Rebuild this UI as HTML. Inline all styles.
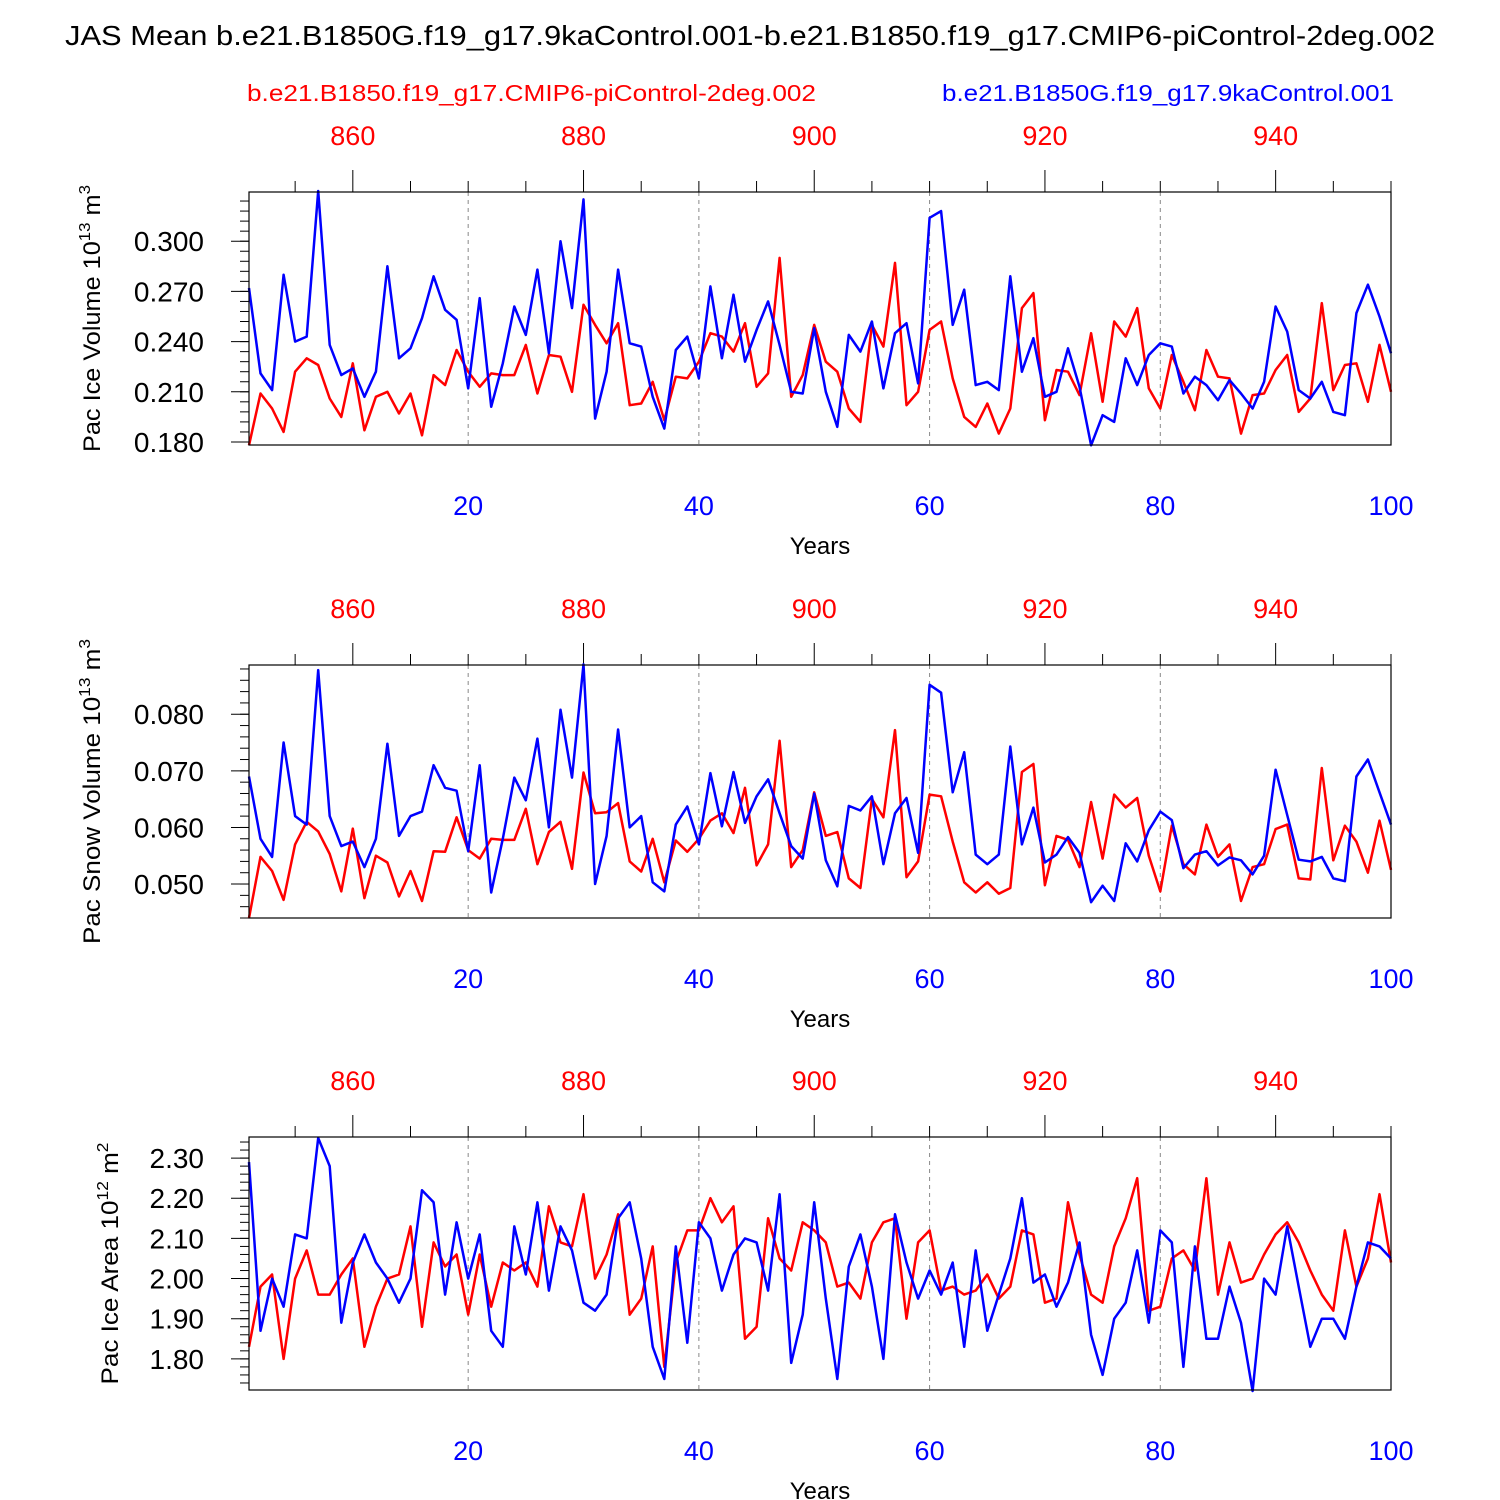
<!DOCTYPE html>
<html><head><meta charset="utf-8"><style>
html,body{margin:0;padding:0;background:#fff;}
svg{display:block;font-family:"Liberation Sans",sans-serif;}
</style></head><body>
<svg id="chart" width="1500" height="1500" xmlns="http://www.w3.org/2000/svg">
<text x="65" y="45" font-size="28" textLength="1370" lengthAdjust="spacingAndGlyphs">JAS Mean b.e21.B1850G.f19_g17.9kaControl.001-b.e21.B1850.f19_g17.CMIP6-piControl-2deg.002</text>
<text x="247" y="101" font-size="23" fill="#f00" textLength="569" lengthAdjust="spacingAndGlyphs">b.e21.B1850.f19_g17.CMIP6-piControl-2deg.002</text>
<text x="942" y="101" font-size="23" fill="#00f" textLength="452" lengthAdjust="spacingAndGlyphs">b.e21.B1850G.f19_g17.9kaControl.001</text>
</svg>
<script>
const years = Array.from({length:100},(_,i)=>i+1);
const iceVolBlue=[0.272,0.221,0.211,0.280,0.240,0.243,0.330,0.238,0.220,0.224,0.207,0.222,0.285,0.230,0.236,0.254,0.279,0.259,0.253,0.212,0.266,0.201,0.227,0.261,0.244,0.283,0.233,0.300,0.260,0.325,0.194,0.222,0.283,0.239,0.237,0.207,0.188,0.235,0.243,0.218,0.273,0.230,0.268,0.228,0.247,0.264,0.238,0.210,0.209,0.248,0.210,0.189,0.244,0.234,0.252,0.212,0.245,0.251,0.215,0.314,0.318,0.250,0.271,0.214,0.216,0.211,0.279,0.222,0.242,0.207,0.210,0.236,0.213,0.178,0.196,0.192,0.230,0.214,0.232,0.239,0.237,0.209,0.219,0.214,0.205,0.217,0.209,0.200,0.216,0.261,0.246,0.211,0.206,0.216,0.198,0.196,0.257,0.274,0.255,0.233];
const iceVolRed=[0.178,0.209,0.200,0.186,0.222,0.230,0.226,0.206,0.195,0.227,0.187,0.207,0.210,0.197,0.209,0.184,0.220,0.214,0.235,0.222,0.213,0.221,0.220,0.220,0.238,0.209,0.232,0.231,0.210,0.262,0.250,0.239,0.251,0.202,0.203,0.216,0.193,0.219,0.218,0.228,0.245,0.243,0.234,0.251,0.213,0.221,0.290,0.207,0.220,0.250,0.228,0.222,0.200,0.192,0.250,0.237,0.287,0.202,0.210,0.247,0.252,0.218,0.195,0.189,0.203,0.185,0.200,0.260,0.269,0.193,0.223,0.222,0.208,0.245,0.204,0.252,0.243,0.260,0.212,0.200,0.232,0.216,0.199,0.235,0.219,0.218,0.185,0.208,0.209,0.223,0.232,0.198,0.206,0.263,0.211,0.226,0.227,0.204,0.238,0.210];
const snowBlue=[0.069,0.058,0.0548,0.075,0.062,0.0605,0.0878,0.062,0.0567,0.0575,0.053,0.058,0.0748,0.0585,0.062,0.0628,0.071,0.067,0.0665,0.0558,0.071,0.0485,0.058,0.0688,0.0648,0.0757,0.06,0.0808,0.0688,0.0888,0.05,0.0585,0.0773,0.06,0.062,0.0503,0.0487,0.0605,0.0637,0.057,0.0696,0.0602,0.0698,0.0608,0.0655,0.0685,0.0625,0.0567,0.0545,0.066,0.0542,0.0496,0.0638,0.063,0.0655,0.0535,0.0625,0.0652,0.0555,0.0852,0.0838,0.0662,0.0733,0.0552,0.0535,0.0552,0.0743,0.057,0.0635,0.0538,0.0552,0.0583,0.0555,0.0468,0.0497,0.047,0.0572,0.054,0.0595,0.0628,0.0613,0.0528,0.0552,0.0558,0.0533,0.0547,0.0542,0.0517,0.055,0.0702,0.0622,0.0543,0.054,0.0548,0.051,0.0505,0.069,0.072,0.0662,0.0605];
const snowRed=[0.044,0.0548,0.0523,0.0472,0.057,0.061,0.0593,0.0553,0.0487,0.0598,0.0475,0.055,0.0538,0.0478,0.0523,0.047,0.0558,0.0557,0.0618,0.056,0.0545,0.058,0.0578,0.0578,0.0633,0.0535,0.0592,0.061,0.0527,0.0697,0.0625,0.0627,0.0643,0.054,0.0522,0.058,0.0503,0.0577,0.0557,0.058,0.0612,0.0625,0.059,0.067,0.0533,0.057,0.0753,0.053,0.056,0.0662,0.0585,0.0592,0.051,0.0493,0.065,0.0618,0.0772,0.0512,0.054,0.0658,0.0655,0.0575,0.0503,0.0485,0.0503,0.0483,0.0493,0.0698,0.0712,0.0498,0.0585,0.0578,0.053,0.0645,0.0545,0.0658,0.0635,0.0652,0.055,0.0487,0.0603,0.0535,0.0517,0.0605,0.0548,0.057,0.047,0.053,0.0535,0.0597,0.0605,0.051,0.0508,0.0705,0.0542,0.0603,0.0575,0.052,0.0612,0.0525];
const areaBlue=[2.29,1.87,2.00,1.93,2.11,2.10,2.35,2.28,1.89,2.04,2.11,2.04,2.00,1.94,2.00,2.22,2.19,1.96,2.14,2.00,2.11,1.87,1.83,2.13,2.01,2.19,1.97,2.13,2.07,1.94,1.92,1.96,2.15,2.19,2.05,1.83,1.75,2.08,1.84,2.14,2.10,1.97,2.06,2.10,2.09,1.97,2.21,1.79,1.91,2.19,1.95,1.75,2.03,2.11,1.98,1.80,2.16,2.04,1.95,2.02,1.96,2.04,1.83,2.07,1.87,1.96,2.05,2.20,1.99,2.01,1.93,1.99,2.09,1.86,1.76,1.90,1.94,2.07,1.89,2.12,2.09,1.78,2.08,1.85,1.85,1.98,1.89,1.72,2.00,1.96,2.13,1.98,1.83,1.90,1.90,1.85,1.98,2.09,2.08,2.05];
const areaRed=[1.83,1.98,2.01,1.80,2.00,2.07,1.96,1.96,2.01,2.05,1.83,1.93,2.00,2.01,2.13,1.88,2.09,2.03,2.06,1.91,2.06,1.93,2.04,2.02,2.04,1.98,2.18,2.09,2.08,2.21,2.00,2.06,2.16,1.91,1.95,2.08,1.78,2.04,2.12,2.12,2.20,2.14,2.18,1.85,1.88,2.15,2.05,2.02,2.14,2.12,2.09,1.98,1.99,1.95,2.09,2.14,2.15,1.90,2.09,2.12,1.97,1.98,1.96,1.97,2.01,1.95,1.98,2.12,2.11,1.94,1.95,2.19,2.06,1.96,1.94,2.08,2.15,2.25,1.92,1.93,2.05,2.07,2.02,2.25,1.96,2.09,1.99,2.00,2.06,2.11,2.14,2.09,2.02,1.96,1.92,2.12,1.98,2.05,2.21,2.04];
const bottomTicks=[20,40,60,80,100];
const topTicks=[860,880,900,920,940];
const YEAR_OFFSET=850;
const panels=[
 {name:'ice-volume',top:192,ymin:0.1782,ymax:0.3294,ticks:[0.18,0.21,0.24,0.27,0.30],dec:3,minor:0.006,title:'Pac Ice Volume 10',exp:'13',unit:' m',uexp:'3',blue:iceVolBlue,red:iceVolRed,tx:100,tl:267},
 {name:'snow-volume',top:665,ymin:0.044,ymax:0.0887,ticks:[0.05,0.06,0.07,0.08],dec:3,minor:0.002,title:'Pac Snow Volume 10',exp:'13',unit:' m',uexp:'3',blue:snowBlue,red:snowRed,tx:100,tl:305},
 {name:'ice-area',top:1137,ymin:1.7225,ymax:2.3525,ticks:[1.8,1.9,2.0,2.1,2.2,2.3],dec:2,minor:0.02,title:'Pac Ice Area 10',exp:'12',unit:' m',uexp:'2',blue:areaBlue,red:areaRed,tx:118,tl:242}
];
const NS='http://www.w3.org/2000/svg';
const svg=document.getElementById('chart');
const X0=249,X1=1391,H=253;
const xs=v=>X0+(v-1)/99*(X1-X0);
function mk(tag,attrs,parent){const e=document.createElementNS(NS,tag);for(const k in attrs)e.setAttribute(k,attrs[k]);(parent||svg).appendChild(e);return e;}
panels.forEach(p=>{
 const g=mk('g',{});
 
 
 const ys=v=>p.top+H-(v-p.ymin)/(p.ymax-p.ymin)*H;
 bottomTicks.slice(0,4).forEach(t=>{const l=mk('line',{x1:xs(t),x2:xs(t),y1:p.top,y2:p.top+H,stroke:'#888','stroke-width':1,'stroke-dasharray':'4,4'},g);
  
  });
 for(let yr=5;yr<=100;yr+=5){const major=((yr+YEAR_OFFSET)%20===0);mk('line',{x1:xs(yr),x2:xs(yr),y1:p.top,y2:p.top-(major?22:11),stroke:'#000','stroke-width':1},g);}
 topTicks.forEach(t=>{const tx=mk('text',{x:xs(t-YEAR_OFFSET),y:p.top-47,'font-size':27,fill:'#f00','text-anchor':'middle'},g);tx.textContent=t;
  
  });
 bottomTicks.forEach(t=>{const tx=mk('text',{x:xs(t),y:p.top+H+70,'font-size':27,fill:'#00f','text-anchor':'middle'},g);tx.textContent=t;
  
  });
 const xt=mk('text',{x:820,y:p.top+H+109,'font-size':24,'text-anchor':'middle'},g);xt.textContent='Years';
 
 
 const start=Math.ceil(p.ymin/p.minor);
 for(let k=start;k*p.minor<=p.ymax;k++){const v=k*p.minor;mk('line',{x1:X0,x2:X0-9,y1:ys(v),y2:ys(v),stroke:'#000','stroke-width':1},g);}
 p.ticks.forEach(t=>{mk('line',{x1:X0,x2:X0-18,y1:ys(t),y2:ys(t),stroke:'#000','stroke-width':1},g);
  const tx=mk('text',{x:204,y:ys(t)+10,'font-size':28,'text-anchor':'end'},g);tx.textContent=t.toFixed(p.dec);
  
  });
 const yt=mk('text',{transform:`translate(${p.tx},${p.top+H/2}) rotate(-90)`,'font-size':24,'text-anchor':'middle',textLength:p.tl,lengthAdjust:'spacingAndGlyphs'},g);
 
 
 yt.innerHTML=`${p.title}<tspan dy="-10" font-size="16">${p.exp}</tspan><tspan dy="10">${p.unit}</tspan><tspan dy="-10" font-size="16">${p.uexp}</tspan>`;
 [['red',p.red,'#f00'],['blue',p.blue,'#00f']].forEach(([n,arr,c])=>{
  const d=arr.map((v,i)=>(i?'L':'M')+xs(years[i]).toFixed(1)+','+ys(v).toFixed(1)).join('');
  const path=mk('path',{d:d,fill:'none',stroke:c,'stroke-width':2.5,'stroke-linejoin':'round'},g);
  
  
 });
 const fr=mk('rect',{x:X0,y:p.top,width:X1-X0,height:H,fill:'none',stroke:'#000','stroke-width':1.2},g);
 
 
});
</script>
</body></html>
